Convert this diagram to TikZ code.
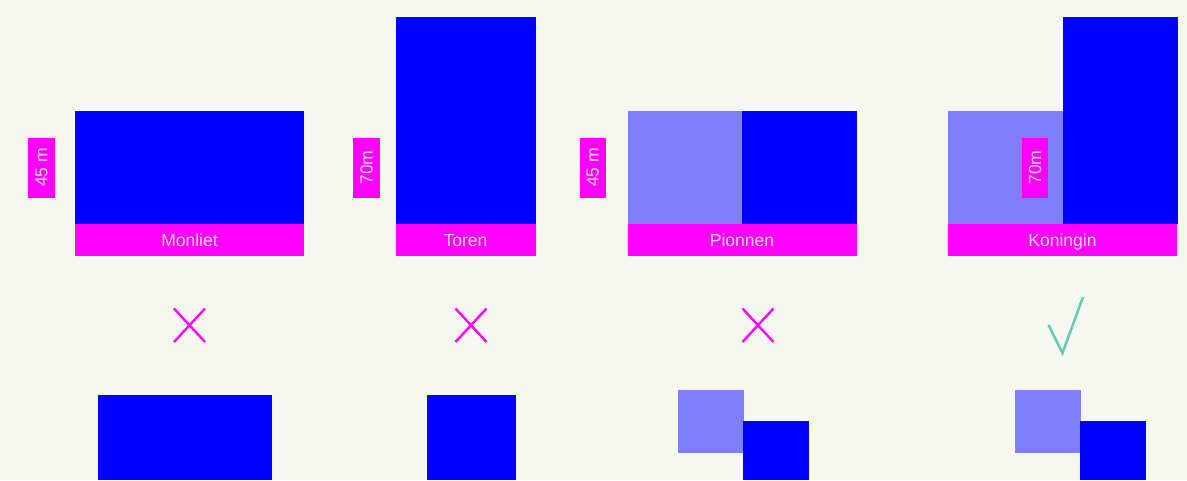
\documentclass[tikz,border=0pt]{standalone}
\usepackage{fontspec}
\setmainfont{Liberation Sans}
\definecolor{bg}{RGB}{247,247,242}
\definecolor{dblue}{RGB}{0,0,255}
\definecolor{lblue}{RGB}{127,127,250}
\definecolor{mag}{RGB}{255,0,255}
\definecolor{txt}{RGB}{255,215,255}
\definecolor{teal}{RGB}{102,204,185}
\begin{document}
\begin{tikzpicture}[x=1pt,y=-1pt,
  lbl/.style={text=txt,font=\fontsize{17.5}{19}\selectfont,inner sep=0pt,anchor=base},
  vlbl/.style={text=txt,font=\fontsize{17.5}{19}\selectfont,inner sep=0pt,anchor=center,rotate=90},
  cross/.style={draw=mag,line width=2.4pt},
  tick/.style={draw=teal,line width=2.6pt}]
\useasboundingbox (0,0) rectangle (1187,480);
\fill[bg] (0,0) rectangle (1187,480);
% panel 1
\fill[dblue] (75,111) rectangle (304,224);
\fill[mag] (75,224) rectangle (304,255.5);
\node[lbl] (t1) at (189.5,246.5) {Monliet};
\fill[mag] (28.3,138) rectangle (54.7,197.7);
\node[vlbl] (h1) at (41.5,167.5) {45 m};
% panel 2
\fill[dblue] (395.5,17) rectangle (535.5,224);
\fill[mag] (395.5,224) rectangle (535.5,255.5);
\node[lbl] (t2) at (465.5,246.5) {Toren};
\fill[mag] (353.3,138) rectangle (379.7,197.7);
\node[vlbl] (h2) at (366.5,167.5) {70m};
% panel 3
\fill[lblue] (627.7,111) rectangle (742,224);
\fill[dblue] (742,111) rectangle (856.7,224);
\fill[mag] (627.7,224) rectangle (856.7,255.5);
\node[lbl] (t3) at (742,246.5) {Pionnen};
\fill[mag] (580,138) rectangle (605.7,197.7);
\node[vlbl] (h3) at (592.8,167.5) {45 m};
% panel 4
\fill[lblue] (947.7,111) rectangle (1063,224);
\fill[dblue] (1063,17) rectangle (1177.7,224);
\fill[mag] (947.7,224) rectangle (1177,255.5);
\node[lbl] (t4) at (1062.5,246.5) {Koningin};
\fill[mag] (1022,138) rectangle (1048,197.7);
\node[vlbl] (h4) at (1035,167.5) {70m};
% marks
\foreach \cx in {189.5,471,758}{
  \draw[cross] (\cx-15.5,308.5) -- (\cx+15.5,342);
  \draw[cross] (\cx-15.5,342) -- (\cx+15.5,308.5);
}
\draw[tick] (1048.5,325) -- (1062.5,353) -- (1083,297);
% bottom shapes
\fill[dblue] (97.5,395) rectangle (271.5,480);
\fill[dblue] (427,395) rectangle (516,480);
\fill[lblue] (677.5,390) rectangle (743.5,453);
\fill[dblue] (742.5,421) rectangle (808.5,480);
\fill[lblue] (1015,390) rectangle (1081,453);
\fill[dblue] (1080,421) rectangle (1146,480);
\end{tikzpicture}
\end{document}
